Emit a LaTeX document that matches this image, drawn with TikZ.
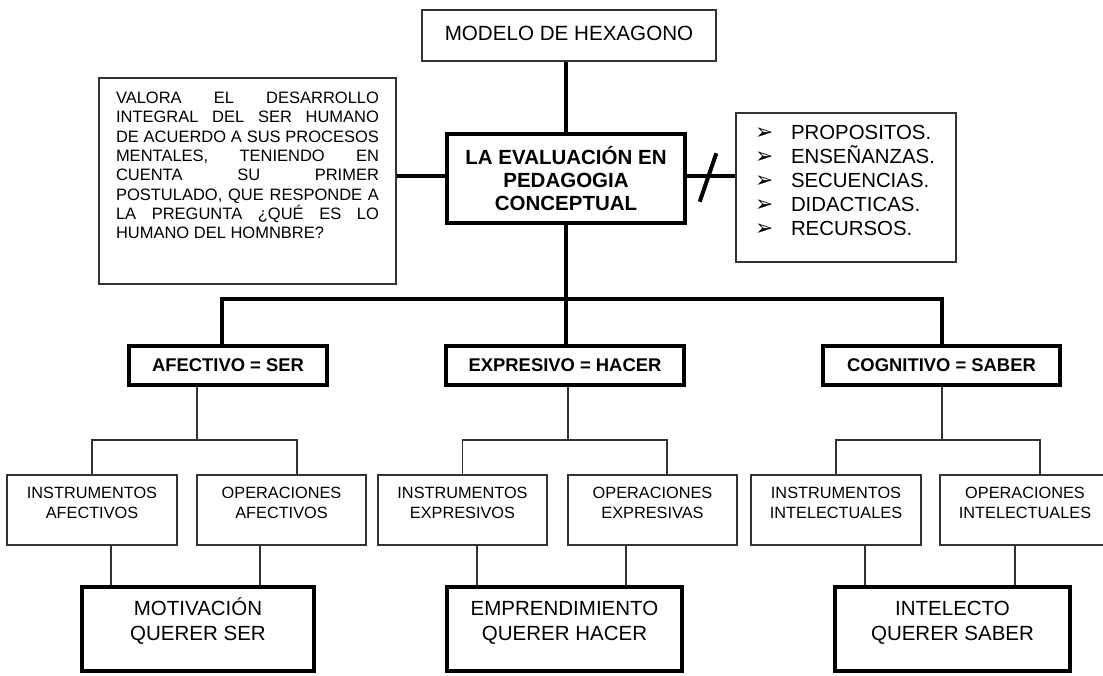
\documentclass[tikz,border=0pt]{standalone}
\usepackage{fontspec}
\setmainfont{Liberation Sans}
\newfontfamily\simbolos{DejaVu Sans}
\usetikzlibrary{calc}
% caja de texto con margen superior fijo
\newcommand{\cajatexto}[4]{\parbox[c][#1][t]{#2}{\vspace*{#3}\centering #4}}
\newcommand{\vineta}{\makebox[36pt][l]{\simbolos\fontsize{22}{22}\selectfont ➢}}

\begin{document}
\begin{tikzpicture}[x=1pt, y=-1pt, line join=miter,
		caja/.style={draw=black!80, line width=1.3pt, inner sep=0pt, fill=white},
		cajagruesa/.style={draw=black, line width=4pt, inner sep=0pt, fill=white},
		lineafina/.style={draw=black!80, line width=1.3pt},
		lineagruesa/.style={draw=black, line width=4pt},
		nivel/.style={cajagruesa, minimum height=39, font=\bfseries\fontsize{18.4}{20}\selectfont},
		rama/.style={caja, font=\fontsize{16.3}{20}\selectfont},
		meta/.style={cajagruesa, font=\fontsize{20.5}{25}\selectfont}]
	\fill[white] (0,0) rectangle (1103,675);
	\useasboundingbox (0,0) rectangle (1103,675);
	\coordinate (eje) at (0,176);
	\coordinate (bus) at (0,299);
	\coordinate (ramas) at (0,440);
	\coordinate (corte) at (708,177.5);
	
	% parte superior
	\node[caja, minimum width=294, minimum height=51, text depth=5pt, font=\fontsize{20.6}{24}\selectfont] (modelo) at (569,35.5) {MODELO DE HEXAGONO};
	\node[cajagruesa, minimum width=238, minimum height=89, align=center, font=\bfseries\fontsize{20.5}{23.3}\selectfont] (evaluacion) at (566,178.5) {LA EVALUACIÓN EN\\PEDAGOGIA\\CONCEPTUAL};
	\node[caja, font=\fontsize{16.5}{19.3}\selectfont] (valora) at (247.5,181) {\cajatexto{206pt}{297pt}{14pt}{\parbox{263pt}{%
				\makebox[263pt][s]{VALORA EL DESARROLLO}\\
				\makebox[263pt][s]{INTEGRAL DEL SER HUMANO}\\
				\makebox[263pt][s]{DE ACUERDO A SUS PROCESOS}\\
				\makebox[263pt][s]{MENTALES, TENIENDO EN}\\
				\makebox[263pt][s]{CUENTA SU PRIMER}\\
				\makebox[263pt][s]{POSTULADO, QUE RESPONDE A}\\
				\makebox[263pt][s]{LA PREGUNTA ¿QUÉ ES LO}\\
				HUMANO DEL HOMNBRE?}}};
	\node[caja, font=\fontsize{20.4}{24}\selectfont] (propositos) at (846,187.5) {\cajatexto{149pt}{220pt}{12.5pt}{\parbox{182pt}{%
				\vineta PROPOSITOS.\\
				\vineta ENSEÑANZAS.\\
				\vineta SECUENCIAS.\\
				\vineta DIDACTICAS.\\
				\vineta RECURSOS.}}};
	
	\draw[lineagruesa] (evaluacion.north) -- (evaluacion.north |- modelo.south);
	\draw[lineagruesa] (valora.east |- eje) -- (evaluacion.west |- eje);
	\draw[lineagruesa] (evaluacion.east |- eje) -- (propositos.west |- eje);
	\draw[lineagruesa] ($(corte)+(-8.3,24.2)$) -- ($(corte)+(8.3,-24.2)$);
	
	% dimensiones
	\node[nivel, minimum width=198] (afectivo) at (228,365.5) {AFECTIVO = SER};
	\node[nivel, minimum width=238] (expresivo) at (565,365.5) {EXPRESIVO = HACER};
	\node[nivel, minimum width=237] (cognitivo) at (941.5,365.5) {COGNITIVO = SABER};
	
	\draw[lineagruesa] (evaluacion.south) -- (evaluacion.south |- expresivo.north);
	\draw[lineagruesa] ([xshift=-6pt]afectivo.north) -- ([xshift=-6pt]afectivo.north |- bus) -| (cognitivo.north);
	
	% instrumentos y operaciones
	\node[rama] (instA) at (92,510) {\cajatexto{70pt}{170pt}{12.2pt}{INSTRUMENTOS\\AFECTIVOS}};
	\node[rama] (operA) at (281.5,510) {\cajatexto{70pt}{169pt}{12.2pt}{OPERACIONES\\AFECTIVOS}};
	\node[rama] (instE) at (462.5,510) {\cajatexto{70pt}{169pt}{12.2pt}{INSTRUMENTOS\\EXPRESIVOS}};
	\node[rama] (operE) at (652.5,510) {\cajatexto{70pt}{169pt}{12.2pt}{OPERACIONES\\EXPRESIVAS}};
	\node[rama] (instC) at (836,510) {\cajatexto{70pt}{170pt}{12.2pt}{INSTRUMENTOS\\INTELECTUALES}};
	\node[rama] (operC) at (1025,510) {\cajatexto{70pt}{170pt}{12.2pt}{OPERACIONES\\INTELECTUALES}};
	
	\foreach \d/\dx/\i/\o/\ox in {afectivo/-31/instA/operA/15.5, expresivo/3/instE/operE/14.5, cognitivo/0.5/instC/operC/15}{
		\draw[lineafina] ([xshift=\dx pt]\d.south) -- ([xshift=\dx pt]\d.south |- ramas);
		\draw[lineafina] (\i.north) |- ([xshift=\ox pt]\o.north |- ramas) -- ([xshift=\ox pt]\o.north);
	}
	
	% resultados
	\node[meta] (motiv) at (198,629) {\cajatexto{84pt}{232pt}{9.3pt}{\rule{0pt}{19pt}MOTIVACIÓN\\QUERER SER}};
	\node[meta] (empren) at (564.5,629) {\cajatexto{84pt}{235pt}{9.3pt}{\rule{0pt}{19pt}EMPRENDIMIENTO\\QUERER HACER}};
	\node[meta] (intel) at (952.5,629) {\cajatexto{84pt}{235pt}{9.3pt}{\rule{0pt}{19pt}INTELECTO\\QUERER SABER}};
	
	\foreach \n/\s/\m in {instA/19/motiv, operA/-21.5/motiv, instE/14.5/empren, operE/-26.5/empren, instC/29/intel, operC/-10/intel}
	\draw[lineafina] ([xshift=\s pt]\n.south) -- ([xshift=\s pt]\n.south |- \m.north);
\end{tikzpicture}
\end{document}
